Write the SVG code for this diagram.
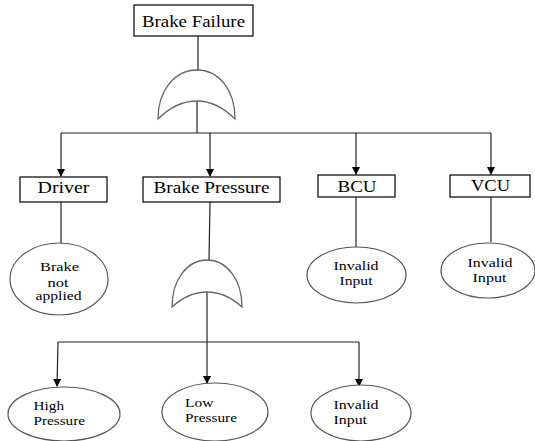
<svg xmlns="http://www.w3.org/2000/svg" width="535" height="441" viewBox="0 0 535 441">
<style>
.box{fill:#fff;stroke:#000;stroke-width:1.2}
.ell{fill:#fff;stroke:#555;stroke-width:1.2}
.gate{fill:#fff;stroke:#666;stroke-width:1.3}
.ln{fill:none;stroke:#222;stroke-width:1.2}
</style>
<defs>
<marker id="arr" markerWidth="8" markerHeight="8" refX="7" refY="4" orient="auto" markerUnits="userSpaceOnUse">
<path d="M0,0 L8,4 L0,8 Z" fill="#000"/>
</marker>
</defs>
<rect width="535" height="441" fill="#fff"/>
<g id="connectors">
<path class="ln" d="M198,36 L198,70"/>
<path class="ln" d="M197,101 L197,133"/>
<path class="ln" d="M61,133 L491,133"/>
<path class="ln" d="M61,133 L61,176" marker-end="url(#arr)"/>
<path class="ln" d="M210,133 L210,176" marker-end="url(#arr)"/>
<path class="ln" d="M356,133 L356,174" marker-end="url(#arr)"/>
<path class="ln" d="M491,133 L491,174" marker-end="url(#arr)"/>
<path class="ln" d="M61,202 L61,243"/>
<path class="ln" d="M210,202 L209,260"/>
<path class="ln" d="M356,197 L356,247"/>
<path class="ln" d="M491,197 L491,242"/>
<path class="ln" d="M207,292 L207,342"/>
<path class="ln" d="M58,342 L359,342"/>
<path class="ln" d="M58,342 L57,386" marker-end="url(#arr)"/>
<path class="ln" d="M207,342 L207,383" marker-end="url(#arr)"/>
<path class="ln" d="M359,342 L359,386" marker-end="url(#arr)"/>
</g>
<g font-family="Liberation Serif" fill="#000">
<g id="brake-failure">
<rect class="box" x="134" y="5" width="119" height="31"/>
<text font-size="16" x="193.5" y="27" text-anchor="middle" textLength="103" lengthAdjust="spacingAndGlyphs">Brake Failure</text>
</g>
<g id="or-gate-1">
<path class="gate" d="M158,119 C158,90 175,70 197,70 C219,70 235,90 235,119 C222,106 210,101 197,101 C184,101 171,106 158,119 Z"/>
</g>
<g id="driver">
<rect class="box" x="20" y="177" width="87" height="25"/>
<text font-size="16" x="63.5" y="193" text-anchor="middle" textLength="52" lengthAdjust="spacingAndGlyphs">Driver</text>
</g>
<g id="brake-pressure">
<rect class="box" x="143" y="177" width="137" height="25"/>
<text font-size="16" x="211.5" y="193" text-anchor="middle" textLength="116" lengthAdjust="spacingAndGlyphs">Brake Pressure</text>
</g>
<g id="bcu">
<rect class="box" x="318" y="175" width="77" height="22"/>
<text font-size="16" x="357" y="191.5" text-anchor="middle" textLength="39" lengthAdjust="spacingAndGlyphs">BCU</text>
</g>
<g id="vcu">
<rect class="box" x="450" y="175" width="80" height="22"/>
<text font-size="16" x="490.5" y="191" text-anchor="middle" textLength="39" lengthAdjust="spacingAndGlyphs">VCU</text>
</g>
<g id="brake-not-applied">
<ellipse class="ell" cx="59" cy="279" rx="49" ry="36"/>
<text font-size="13" x="59.5" y="270.5" text-anchor="middle" textLength="39" lengthAdjust="spacingAndGlyphs">Brake</text>
<text font-size="13" x="58" y="286.5" text-anchor="middle" textLength="21" lengthAdjust="spacingAndGlyphs">not</text>
<text font-size="13" x="58.5" y="300" text-anchor="middle" textLength="46" lengthAdjust="spacingAndGlyphs">applied</text>
</g>
<g id="bcu-invalid-input">
<ellipse class="ell" cx="356.5" cy="275" rx="49.5" ry="28"/>
<text font-size="13" x="356" y="269.5" text-anchor="middle" textLength="45" lengthAdjust="spacingAndGlyphs">Invalid</text>
<text font-size="13" x="356" y="284.5" text-anchor="middle" textLength="33" lengthAdjust="spacingAndGlyphs">Input</text>
</g>
<g id="vcu-invalid-input">
<ellipse class="ell" cx="488" cy="270.5" rx="47" ry="27.5"/>
<text font-size="13" x="490" y="266.5" text-anchor="middle" textLength="45" lengthAdjust="spacingAndGlyphs">Invalid</text>
<text font-size="13" x="489.5" y="281.5" text-anchor="middle" textLength="34" lengthAdjust="spacingAndGlyphs">Input</text>
</g>
<g id="or-gate-2">
<path class="gate" d="M172,307 C172,280 187,260 207,260 C227,260 242,280 242,307 C230,296 219,292 207,292 C195,292 184,296 172,307 Z"/>
</g>
<g id="high-pressure">
<ellipse class="ell" cx="64" cy="414" rx="56" ry="27"/>
<text font-size="13" x="33.5" y="410" textLength="30.5" lengthAdjust="spacingAndGlyphs">High</text>
<text font-size="13" x="33.5" y="425" textLength="51.5" lengthAdjust="spacingAndGlyphs">Pressure</text>
</g>
<g id="low-pressure">
<ellipse class="ell" cx="215" cy="412" rx="53" ry="29"/>
<text font-size="13" x="185" y="407" textLength="28.5" lengthAdjust="spacingAndGlyphs">Low</text>
<text font-size="13" x="185" y="422" textLength="52" lengthAdjust="spacingAndGlyphs">Pressure</text>
</g>
<g id="pressure-invalid-input">
<ellipse class="ell" cx="361" cy="413" rx="50" ry="28"/>
<text font-size="13" x="333.5" y="409" textLength="45" lengthAdjust="spacingAndGlyphs">Invalid</text>
<text font-size="13" x="333.5" y="424" textLength="33.5" lengthAdjust="spacingAndGlyphs">Input</text>
</g>
</g>
</svg>
